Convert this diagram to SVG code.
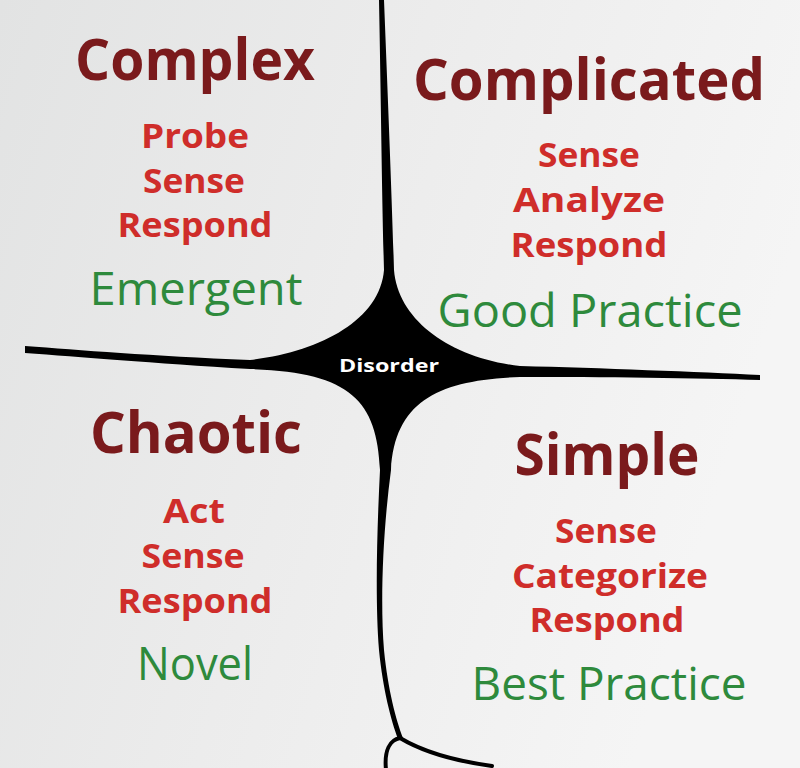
<svg xmlns="http://www.w3.org/2000/svg" width="800" height="768" viewBox="0 0 800 768">
<defs>
<linearGradient id="bg" x1="0" y1="0" x2="1" y2="0.3">
<stop offset="0" stop-color="#e2e3e3"/>
<stop offset="0.5" stop-color="#ececec"/>
<stop offset="1" stop-color="#f5f5f5"/>
</linearGradient>
<style>
text{font-family:"Open Sans","Noto Sans","Liberation Sans",sans-serif;text-anchor:middle}
.title{font-size:58px;font-weight:700;fill:#7a1a1c}
.step{font-size:34px;font-weight:700;fill:#cf2d2a}
.prac{font-size:46px;font-weight:400;fill:#2e8a3c}
.dis{font-size:17px;font-weight:700;fill:#ffffff}
.ln{fill:none;stroke:#000;stroke-width:4;stroke-linecap:round}
</style>
</defs>
<rect width="800" height="768" fill="url(#bg)"/>
<g id="connectors">
<path fill="#000" d="M379,0 L384,0 C388,100 392,200 394,270 C398,320 450,358 520,366 C600,368 700,372 760,375 L760,380 C700,378 600,377 520,377 C440,380 395,400 391,470 C383,530 380,600 384,650 C388,690 396,720 403,738 L398,739 C391,720 383,690 379,650 C375,600 377,530 380,470 C377,400 350,372 250,369 C150,363 80,357 25,353 L25,346 C80,350 150,356 250,360 C320,352 380,320 384,270 C382,200 381,100 379,0 Z"/>
<path class="ln" d="M400,738 C390,740 384,750 386,770"/>
<path class="ln" d="M400,738 C420,750 448,760 492,766"/>
</g>
<g id="disorder"><text class="dis" x="389" y="372" textLength="100" lengthAdjust="spacingAndGlyphs">Disorder</text></g>
<g id="complex">
<text class="title" x="195" y="80" textLength="240" lengthAdjust="spacingAndGlyphs">Complex</text>
<text class="step" x="195" y="148" textLength="108" lengthAdjust="spacingAndGlyphs">Probe</text>
<text class="step" x="194" y="193" textLength="102" lengthAdjust="spacingAndGlyphs">Sense</text>
<text class="step" x="195" y="237" textLength="155" lengthAdjust="spacingAndGlyphs">Respond</text>
<text class="prac" x="196" y="305" textLength="213" lengthAdjust="spacingAndGlyphs">Emergent</text>
</g>
<g id="complicated">
<text class="title" x="589" y="100" textLength="352" lengthAdjust="spacingAndGlyphs">Complicated</text>
<text class="step" x="589" y="167" textLength="102" lengthAdjust="spacingAndGlyphs">Sense</text>
<text class="step" x="589" y="212" textLength="152" lengthAdjust="spacingAndGlyphs">Analyze</text>
<text class="step" x="589" y="257" textLength="157" lengthAdjust="spacingAndGlyphs">Respond</text>
<text class="prac" x="590" y="327" textLength="305" lengthAdjust="spacingAndGlyphs">Good Practice</text>
</g>
<g id="chaotic">
<text class="title" x="196" y="453" textLength="212" lengthAdjust="spacingAndGlyphs">Chaotic</text>
<text class="step" x="194" y="523" textLength="62" lengthAdjust="spacingAndGlyphs">Act</text>
<text class="step" x="193" y="568" textLength="103" lengthAdjust="spacingAndGlyphs">Sense</text>
<text class="step" x="195" y="613" textLength="155" lengthAdjust="spacingAndGlyphs">Respond</text>
<text class="prac" x="195" y="680" textLength="116" lengthAdjust="spacingAndGlyphs">Novel</text>
</g>
<g id="simple">
<text class="title" x="607" y="475" textLength="185" lengthAdjust="spacingAndGlyphs">Simple</text>
<text class="step" x="606" y="543" textLength="102" lengthAdjust="spacingAndGlyphs">Sense</text>
<text class="step" x="610" y="588" textLength="196" lengthAdjust="spacingAndGlyphs">Categorize</text>
<text class="step" x="607" y="632" textLength="155" lengthAdjust="spacingAndGlyphs">Respond</text>
<text class="prac" x="609" y="700" textLength="275" lengthAdjust="spacingAndGlyphs">Best Practice</text>
</g>
</svg>
